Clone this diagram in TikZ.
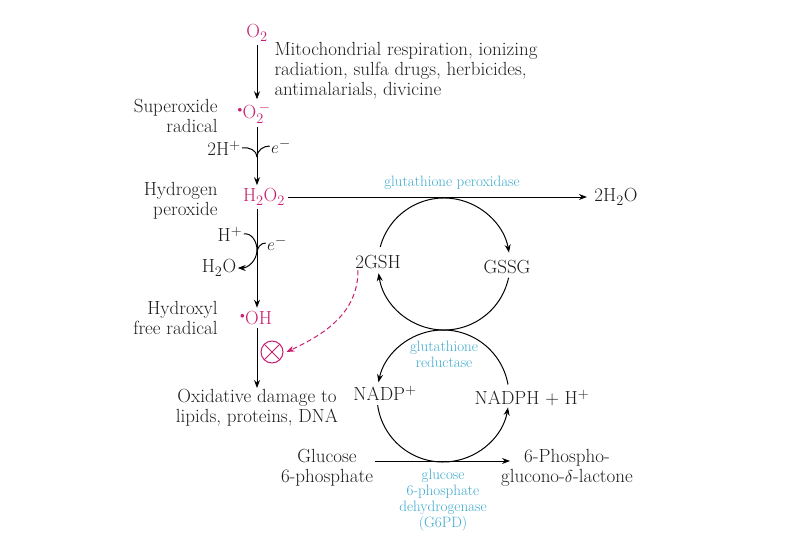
\documentclass[tikz,border=0pt]{standalone}
\usepackage{fontspec}
\usetikzlibrary{arrows.meta}
\definecolor{magentarot}{RGB}{200,30,110}
\definecolor{enzymblau}{RGB}{60,170,205}
\definecolor{textgrau}{RGB}{30,30,30}
\tikzset{
  stoff/.style={font=\fontsize{19}{20}\selectfont, text=textgrau, inner sep=1pt},
  radikal/.style={stoff, text=magentarot, inner sep=3pt},
  enzym/.style={font=\fontsize{15}{16}\selectfont, text=enzymblau, align=center, inner sep=1pt}
}
\newcommand{\rad}{$^{\scriptscriptstyle\bullet}$}
\begin{document}
\begin{tikzpicture}[x=1pt, y=1pt, line width=1pt, >={Stealth[length=8pt,width=6pt]}]
\useasboundingbox (0,0) rectangle (800,550);

% Radikale links
\node[radikal] (o2) at (257,517) {O$_2$};
\node[radikal] (supox) at (254,437) {\rad O$_2^{\,-}$};
\node[radikal] (h2o2) at (264,353) {H$_2$O$_2$};
\node[radikal] (oh) at (256,232) {\rad OH};
\node[stoff, align=center] (schaden) at (257,142) {Oxidative damage to\\lipids, proteins, DNA};

% Beschriftung links
\node[stoff, align=right, anchor=east] (superoxid) at (219,434) {Superoxide\\radical};
\node[stoff, align=right, anchor=east] (peroxid) at (219,349) {Hydrogen\\peroxide};
\node[stoff, align=right, anchor=east] (hydroxyl) at (219,232) {Hydroxyl\\free radical};
\node[stoff, align=left, anchor=north west] (quellen) at (273,509) {Mitochondrial respiration, ionizing\\radiation, sulfa drugs, herbicides,\\antimalarials, divicine};

% Senkrechte Pfeile
\draw[->] (o2.south) -- (o2.south |- supox.north);
\draw[->] (o2.south |- supox.south) -- (o2.south |- h2o2.north);
\draw[->] (o2.south |- h2o2.south) -- (o2.south |- oh.north);
\draw[->] (o2.south |- oh.south) -- (o2.south |- schaden.north);

% Elektronen und Protonen
\node[stoff] (zweih) at (224,402) {2H$^+$};
\node[stoff] (eeins) at (281,404) {$e^-$};
\coordinate (m1) at (257,393);
\draw (zweih.east) to[out=10, in=90] (m1);
\draw (eeins.west) to[out=180, in=90] (m1);

\node[stoff] (hplus) at (230,316) {H$^+$};
\node[stoff] (ezwei) at (277,307) {$e^-$};
\node[stoff] (wasserl) at (219,282) {H$_2$O};
\coordinate (m2) at (257,300);
\coordinate (m3) at (257,297);
\draw[->] (hplus.east) to[out=10, in=90] (m2) to[out=-90, in=0] (wasserl.east);
\draw (ezwei.west) to[out=180, in=90] (m3);

% Glutathionperoxidase
\node[stoff] (wasser) at (616,353) {2H$_2$O};
\draw[->, shorten >=6pt] (h2o2.east) -- (wasser.west);
\node[enzym] (gpx) at (452,367) {glutathione peroxidase};

% Oberer Kreis
\coordinate (oben) at (444,286);
\node[stoff] (gsh) at (378,288) {2GSH};
\node[stoff] (gssg) at (507,283) {GSSG};
\draw[->] ([shift={(165:66)}]oben) arc[start angle=165, end angle=10, radius=66];
\draw[->] ([shift={(-12:66)}]oben) arc[start angle=-12, end angle=-172, radius=66];
\node[enzym] (gr) at (444,196) {glutathione\\reductase};

% Unterer Kreis
\coordinate (unten) at (443,154);
\node[stoff] (nadp) at (385,157) {NADP$^+$};
\node[stoff] (nadph) at (532,152) {NADPH + H$^+$};
\draw[->] ([shift={(10:66)}]unten) arc[start angle=10, end angle=168, radius=66];
\draw[->] ([shift={(188:66)}]unten) arc[start angle=188, end angle=350, radius=66];

% Glucose-6-phosphat
\node[stoff, align=center] (glucose) at (327,82) {Glucose\\6-phosphate};
\node[stoff, align=center] (lacton) at (567,82) {6-Phospho-\\glucono-$\delta$-lactone};
\coordinate (ende) at (510,89);
\draw[->] (glucose.east |- ende) -- (ende);
\node[enzym] (g6pd) at (443,50) {glucose\\6-phosphate\\dehydrogenase\\(G6PD)};

% Hemmung
\node[circle, draw=magentarot, line width=1pt, minimum size=22pt, inner sep=0pt,
  path picture={\draw[magentarot, line width=1pt] (path picture bounding box.north west) -- (path picture bounding box.south east)
  (path picture bounding box.north east) -- (path picture bounding box.south west);}] (kreuz) at (272,198) {};
\draw[->, dashed, magentarot, dash pattern=on 5pt off 3pt] ([xshift=-20pt]gsh.south) to[out=-90, in=25] ([xshift=3pt]kreuz.east);

\end{tikzpicture}
\end{document}
